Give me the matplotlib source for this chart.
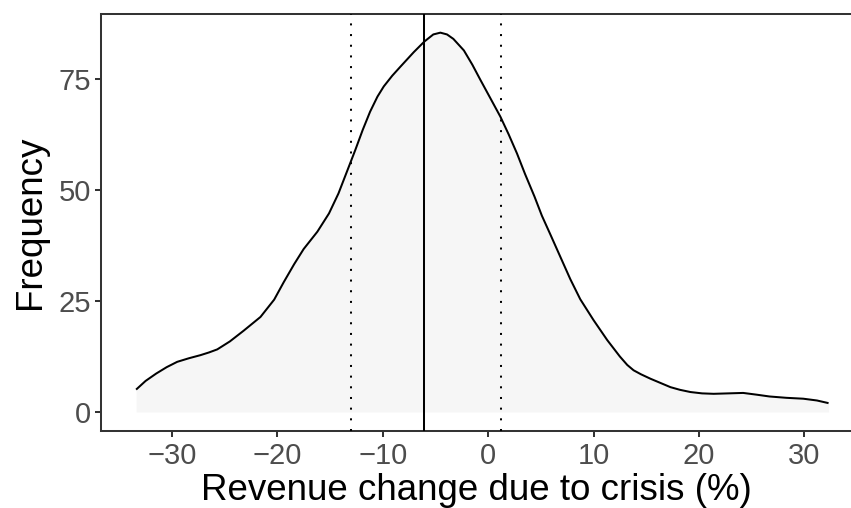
import matplotlib
matplotlib.use("Agg")
import matplotlib.pyplot as plt

# Density curve
revenue_change = [-33.4, -32.5, -31.5, -30.5, -29.5, -28.4, -27.3, -26.5, -25.7, -24.5,
                  -23.2, -21.6, -20.3, -19.4, -18.4, -17.5, -16.2, -15.1, -14.2, -13.4,
                  -12.6, -11.9, -11.2, -10.5, -9.9, -9.1, -8.3, -7.06, -6.05, -5.2,
                  -4.53, -3.9, -3.3, -2.3, -1.5, -0.74, 0.2, 1.16, 1.95, 2.74,
                  3.5, 4.4, 5.1, 5.9, 6.84, 7.8, 8.74, 10.0, 11.3, 12.5,
                  13.2, 13.8, 14.5, 15.4, 16.3, 17.3, 18.2, 19.2, 20.3, 21.4,
                  22.8, 24.2, 25.5, 26.7, 28.3, 29.9, 31.2, 32.3]
frequency = [5.05, 7.0, 8.65, 10.1, 11.3, 12.1, 12.8, 13.4, 14.1, 15.9,
             18.3, 21.4, 25.3, 29.2, 33.3, 36.7, 40.6, 44.7, 49.2, 54.1,
             59.0, 63.5, 67.6, 71.0, 73.3, 75.7, 77.8, 81.0, 83.4, 85.0,
             85.4, 85.0, 84.0, 81.4, 78.2, 74.8, 70.7, 66.5, 62.5, 58.2,
             53.6, 48.5, 44.2, 40.0, 35.0, 29.9, 25.4, 20.7, 16.2, 12.5,
             10.6, 9.4, 8.5, 7.5, 6.6, 5.6, 5.0, 4.5, 4.2, 4.1,
             4.2, 4.3, 3.9, 3.5, 3.2, 3.0, 2.6, 2.0]

mean_change = -6.05
ci_bounds = [-13.0, 1.19]

x_ticks = [-30, -20, -10, 0, 10, 20, 30]
x_tick_labels = ["\u221230", "\u221220", "\u221210", "0", "10", "20", "30"]
y_ticks = [0, 25, 50, 75]
y_tick_labels = ["0", "25", "50", "75"]

plt.rcParams['font.family'] = ['Liberation Sans', 'DejaVu Sans']

W, H = 851, 508
fig = plt.figure(figsize=(W / 100, H / 100), dpi=100)
ax = fig.add_axes([101 / W, 77 / H, 1 - 101 / W, 417 / H])

ax.fill_between(revenue_change, 0, frequency, color="#f6f6f6", lw=0, zorder=1)
ax.plot(revenue_change, frequency, color="black", lw=1.45, zorder=3,
        solid_capstyle="butt", solid_joinstyle="round")
ax.axvline(mean_change, color="black", lw=1.45, zorder=4)
for b in ci_bounds:
    ax.axvline(b, color="black", lw=1.45, ls=(0, (1, 4.3)), zorder=4)

ax.set_xlim(-36.73, 34.43)
ax.set_ylim(-4.27, 89.6)
ax.set_xticks(x_ticks)
ax.set_xticklabels(x_tick_labels)
ax.set_yticks(y_ticks)
ax.set_yticklabels(y_tick_labels)

ax.spines["right"].set_visible(False)
for s in ["left", "bottom", "top"]:
    ax.spines[s].set_color("#333333")
    ax.spines[s].set_linewidth(1.45)

ax.tick_params(axis="both", length=4.1, width=1.45, color="#333333",
               labelcolor="#4d4d4d", labelsize=21)
ax.tick_params(axis="x", pad=4)
ax.tick_params(axis="y", pad=3)

ax.set_xlabel("Revenue change due to crisis (%)", fontsize=26.5, color="black", labelpad=2)
ax.set_ylabel("Frequency", fontsize=26.5, color="black", labelpad=8)

fig.savefig("out.png", dpi=100)
